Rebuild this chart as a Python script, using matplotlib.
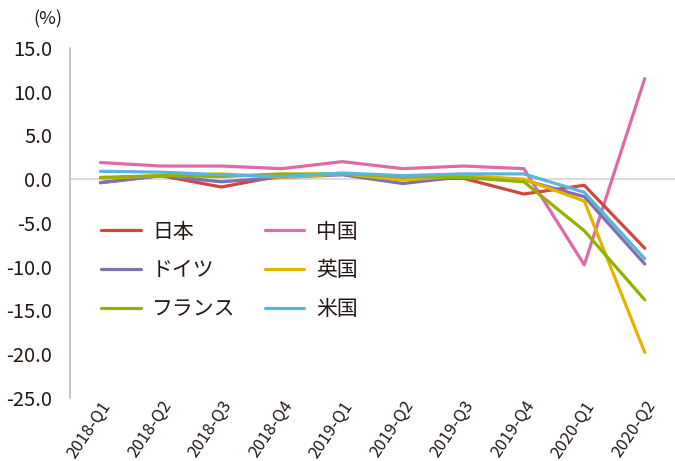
import matplotlib
matplotlib.use("Agg")
import matplotlib.pyplot as plt

plt.rcParams['font.family'] = ['Noto Sans CJK JP', 'DejaVu Sans']

# ==== Data ====
quarters = ["2018-Q1", "2018-Q2", "2018-Q3", "2018-Q4", "2019-Q1",
            "2019-Q2", "2019-Q3", "2019-Q4", "2020-Q1", "2020-Q2"]
japan = [-0.4, 0.4, -0.9, 0.4, 0.6, 0.0, 0.1, -1.7, -0.7, -7.9]
germany = [-0.4, 0.4, -0.3, 0.2, 0.5, -0.5, 0.3, -0.1, -2.0, -9.7]
france = [0.2, 0.4, 0.3, 0.6, 0.6, 0.3, 0.2, -0.3, -5.9, -13.8]
china = [1.9, 1.5, 1.5, 1.2, 2.0, 1.2, 1.5, 1.2, -9.8, 11.5]
uk = [0.1, 0.4, 0.6, 0.2, 0.6, -0.1, 0.4, 0.0, -2.5, -19.8]
us = [0.9, 0.8, 0.5, 0.3, 0.7, 0.4, 0.6, 0.6, -1.5, -9.1]

series = [("日本", japan, "#d0473f"),
          ("ドイツ", germany, "#7d70ad"),
          ("フランス", france, "#8fb300"),
          ("中国", china, "#de6aa8"),
          ("英国", uk, "#e2b400"),
          ("米国", us, "#5bb4da")]
draw_order = ["中国", "日本", "ドイツ", "英国", "フランス", "米国"]

# ==== Plot ====
fig = plt.figure(figsize=(6.75, 4.61), dpi=100)
ax = fig.add_axes([0.104, 0.137, 0.896, 0.759])

ax.axhline(0, color="#dcdcdc", lw=1.5, zorder=1)
x = list(range(len(quarters)))
handles = {}
for name, vals, col in series:
    z = 3 + draw_order.index(name)
    line, = ax.plot(x, vals, color=col, lw=2.3, label=name, zorder=z,
                    solid_capstyle="round")
    handles[name] = line

ax.set_xlim(-0.5, 9.5)
ax.set_ylim(-25, 15)
ax.set_yticks(range(-25, 16, 5))
ax.set_yticklabels([f"{v:.1f}" for v in range(-25, 16, 5)],
                   fontsize=14.5, color="#231815")
ax.set_xticks(x)
ax.set_xticklabels(quarters, rotation=56, ha="right", rotation_mode="anchor",
                   fontsize=12, color="#231815")
ax.tick_params(axis="y", length=0, pad=13)
ax.tick_params(axis="x", length=0, pad=0)
for s in ["top", "right", "bottom"]:
    ax.spines[s].set_visible(False)
ax.spines["left"].set_color("#bdbdbd")
ax.spines["left"].set_linewidth(1.2)

fig.text(0.05, 0.958, "(%)", fontsize=13, color="#231815", ha="left", va="center")

leg = ax.legend([handles[s[0]] for s in series], [s[0] for s in series],
                ncol=2, loc="upper left", bbox_to_anchor=(0.02, 0.56),
                frameon=False, fontsize=15, handlelength=1.9,
                handletextpad=0.55, columnspacing=1.4, labelspacing=0.8)
for t in leg.get_texts():
    t.set_color("#231815")

fig.savefig("out.png", dpi=100)
